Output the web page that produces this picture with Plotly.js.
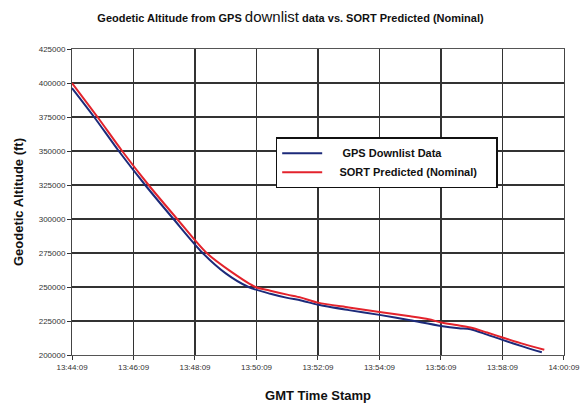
<!DOCTYPE html>
<html><head><meta charset="utf-8">
<script src="https://cdn.plot.ly/plotly-3.0.1.min.js"></script>
<style>html,body{margin:0;padding:0;background:#fff}</style>
</head><body><div id="chart" style="width:581px;height:403px"></div>
<script>
// minutes after 13:44:09
const gpsTime = [0, 0.72, 1.52, 2.38, 3.30, 4.25, 5.0, 5.74, 6.45, 7.0, 7.45, 8, 9, 10, 11, 12, 12.58, 12.96, 13.5, 14, 14.7, 15.28];
const gpsAlt  = [396300, 375000, 350000, 325000, 300000, 275000, 260000, 250000, 245000, 242000, 240100, 236900, 233000, 229500, 225500, 221400, 219700, 219000, 215000, 211100, 206000, 202000];
const sortTime = [0, 0.83, 1.63, 2.49, 3.42, 4.38, 5.16, 5.97, 6.45, 7.0, 7.45, 8, 9, 10, 11, 11.6, 12, 12.5, 12.96, 13.5, 14, 14.7, 15.36];
const sortAlt  = [400000, 375000, 350000, 325000, 300000, 275000, 261500, 250000, 247300, 244400, 242200, 238500, 235000, 231700, 228500, 226300, 223900, 222000, 220200, 216500, 212900, 208000, 203800];
const tickVals = [0, 2, 4, 6, 8, 10, 12, 14, 16];
const tickText = ['13:44:09','13:46:09','13:48:09','13:50:09','13:52:09','13:54:09','13:56:09','13:58:09','14:00:09'];
const yTicks = [200000,225000,250000,275000,300000,325000,350000,375000,400000,425000];

const narrow = 'Liberation Sans Narrow, Arial Narrow, Liberation Sans, Arial, sans-serif';
const sp = '&nbsp;&nbsp;&nbsp;&nbsp;';
const traces = [
  {x: gpsTime, y: gpsAlt, name: sp + '&nbsp;<b>GPS Downlist Data</b>' + sp + sp + sp + sp, mode: 'lines', line: {color: '#1c2a7a', width: 2, shape: 'spline', smoothing: 0.8}},
  {x: sortTime, y: sortAlt, name: sp + '<b>SORT Predicted (Nominal)</b>', mode: 'lines', line: {color: '#e3232c', width: 2, shape: 'spline', smoothing: 0.8}}
];
const layout = {
  width: 581, height: 403,
  margin: {l: 72, r: 17, t: 49, b: 48},
  paper_bgcolor: '#fff', plot_bgcolor: '#fff',
  font: {family: narrow, color: '#222'},
  title: {text: '<b>Geodetic Altitude from GPS </b><span style="font-size:15px">downlist</span><b> data vs. SORT Predicted (Nominal)</b>',
          font: {size: 11, family: narrow, color: '#111'}, x: 0.5, xanchor: 'center', y: 0.955, yanchor: 'middle'},
  xaxis: {range: [0, 16.001], tickvals: tickVals, ticktext: tickText, showgrid: true, gridcolor: '#333', gridwidth: 1.2,
          zeroline: false, showline: true, mirror: true, linecolor: '#555', ticks: 'outside', ticklen: 4, tickcolor: '#333',
          tickfont: {size: 8, color: '#333'}, ticklabeloverflow: 'allow', automargin: false,
          title: {text: '<b>GMT Time Stamp</b>', font: {size: 13, family: 'Liberation Sans, Arial, sans-serif', color: '#111'}, standoff: 20}},
  yaxis: {range: [200000, 425000], tickvals: yTicks, ticktext: yTicks.map(String), showgrid: true, gridcolor: '#333', gridwidth: 1.2,
          zeroline: false, showline: true, mirror: true, linecolor: '#444', ticks: 'outside', ticklen: 4, tickcolor: '#333',
          tickfont: {size: 8, color: '#333'},
          title: {text: '<b>Geodetic Altitude (ft)</b>', font: {size: 13, family: 'Liberation Sans, Arial, sans-serif', color: '#111'}, standoff: 12}},
  showlegend: true,
  legend: {x: 0.414, y: 0.712, xanchor: 'left', yanchor: 'top', bgcolor: '#fff', bordercolor: '#111', borderwidth: 1.5,
           font: {size: 11, family: 'Liberation Sans, Arial, sans-serif', color: '#111'}, tracegroupgap: 0, itemwidth: 40}
};
Plotly.newPlot('chart', traces, layout, {displayModeBar: false, staticPlot: true});
</script></body></html>
